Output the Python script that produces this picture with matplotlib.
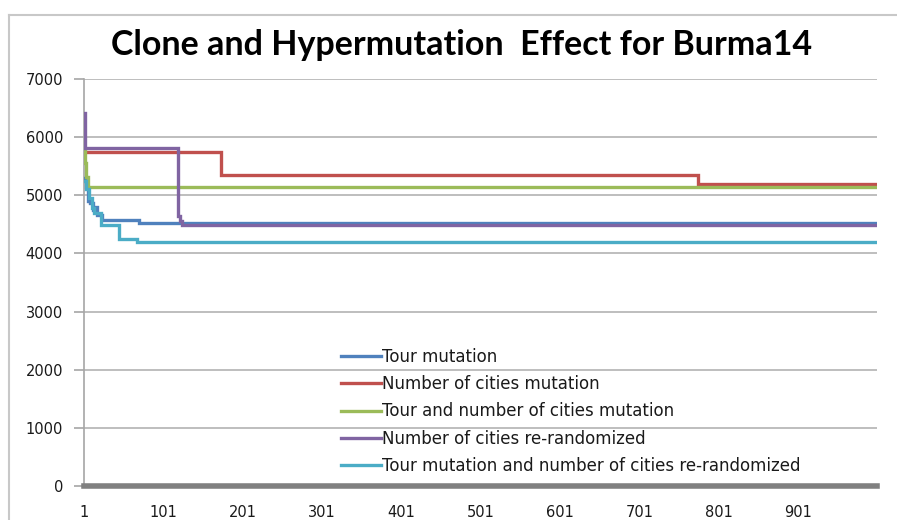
import matplotlib
matplotlib.use("Agg")
import matplotlib.pyplot as plt
from matplotlib.lines import Line2D
import numpy as np

# change points of each run (generation, tour length); values hold until next point
tour_x = [1, 3, 6, 9, 12, 15, 18, 24, 70, 1000]
tour_y = [5290, 5140, 4910, 4860, 4740, 4800, 4660, 4580, 4525, 4525]

cities_x = [1, 173, 775, 1000]
cities_y = [5750, 5355, 5190, 5190]

both_x = [1, 2, 3, 6, 1000]
both_y = [5780, 5550, 5310, 5135, 5135]

rerand_x = [1, 2, 120, 122, 124, 1000]
rerand_y = [6420, 5820, 4650, 4560, 4490, 4490]

tour_rerand_x = [1, 4, 7, 11, 14, 23, 45, 68, 1000]
tour_rerand_y = [5250, 5100, 4960, 4780, 4700, 4490, 4240, 4190, 4190]

labels = ["Tour mutation", "Number of cities mutation",
          "Tour and number of cities mutation", "Number of cities re-randomized",
          "Tour mutation and number of cities re-randomized"]
colors = ["#4F81BD", "#C0504D", "#9BBB59", "#8064A2", "#4BACC6"]

xticks = np.arange(1, 1000, 100)
yticks = np.arange(0, 7001, 1000)

W, H = 897, 520
fig = plt.figure(figsize=(W / 100, H / 100), dpi=100)
ax = fig.add_axes([84 / W, 1 - 486 / H, (877 - 84) / W, (486 - 79) / H])

series = [(tour_x, tour_y), (cities_x, cities_y), (both_x, both_y),
          (rerand_x, rerand_y), (tour_rerand_x, tour_rerand_y)]
for (x, y), c, lab in zip(series, colors, labels):
    ax.plot(x, y, drawstyle="steps-post", color=c, lw=2.4, label=lab,
            solid_joinstyle="miter", zorder=3)

ax.set_xlim(1, 1000)
ax.set_ylim(0, 7000)
ax.set_xticks(xticks)
ax.set_xticklabels([str(v) for v in xticks])
ax.set_yticks(yticks)
ax.yaxis.grid(True, color="#b3b3b3", lw=1.2)
ax.set_axisbelow(True)

for s in ["top", "right"]:
    ax.spines[s].set_visible(False)
ax.spines["left"].set_color("#a6a6a6")
ax.spines["left"].set_linewidth(1.2)
ax.spines["bottom"].set_color("#808080")
ax.spines["bottom"].set_linewidth(4)
ax.spines["bottom"].set_zorder(4)

ax.tick_params(axis="y", length=7, width=1.2, color="#a6a6a6", pad=8,
               labelsize=10.5)
ax.tick_params(axis="x", length=0, pad=14, labelsize=10.5)
for t in ax.get_xticklabels() + ax.get_yticklabels():
    t.set_fontfamily("DejaVu Sans")
    t.set_color("#1a1a1a")

fig.text(462 / W, 1 - 45 / H, "Clone and Hypermutation  Effect for Burma14",
         ha="center", va="center", fontsize=24.5, fontweight="bold",
         family=["Lato", "DejaVu Sans"])

leg = ax.legend(loc="upper left", bbox_to_anchor=(341 / W, 1 - 348 / H),
                bbox_transform=fig.transFigure, frameon=False, fontsize=12,
                handlelength=2.4, handletextpad=0.05, labelspacing=0.55,
                borderaxespad=0, borderpad=0)
for t in leg.get_texts():
    t.set_color("#1a1a1a")

# chart area border
fig.add_artist(Line2D([9 / W, 9 / W], [0, 1 - 15 / H], color="#c8c8c8", lw=1.5,
                      transform=fig.transFigure))
fig.add_artist(Line2D([9 / W, 1], [1 - 15 / H, 1 - 15 / H], color="#c8c8c8",
                      lw=1.5, transform=fig.transFigure))

fig.savefig("out.png", dpi=100)
